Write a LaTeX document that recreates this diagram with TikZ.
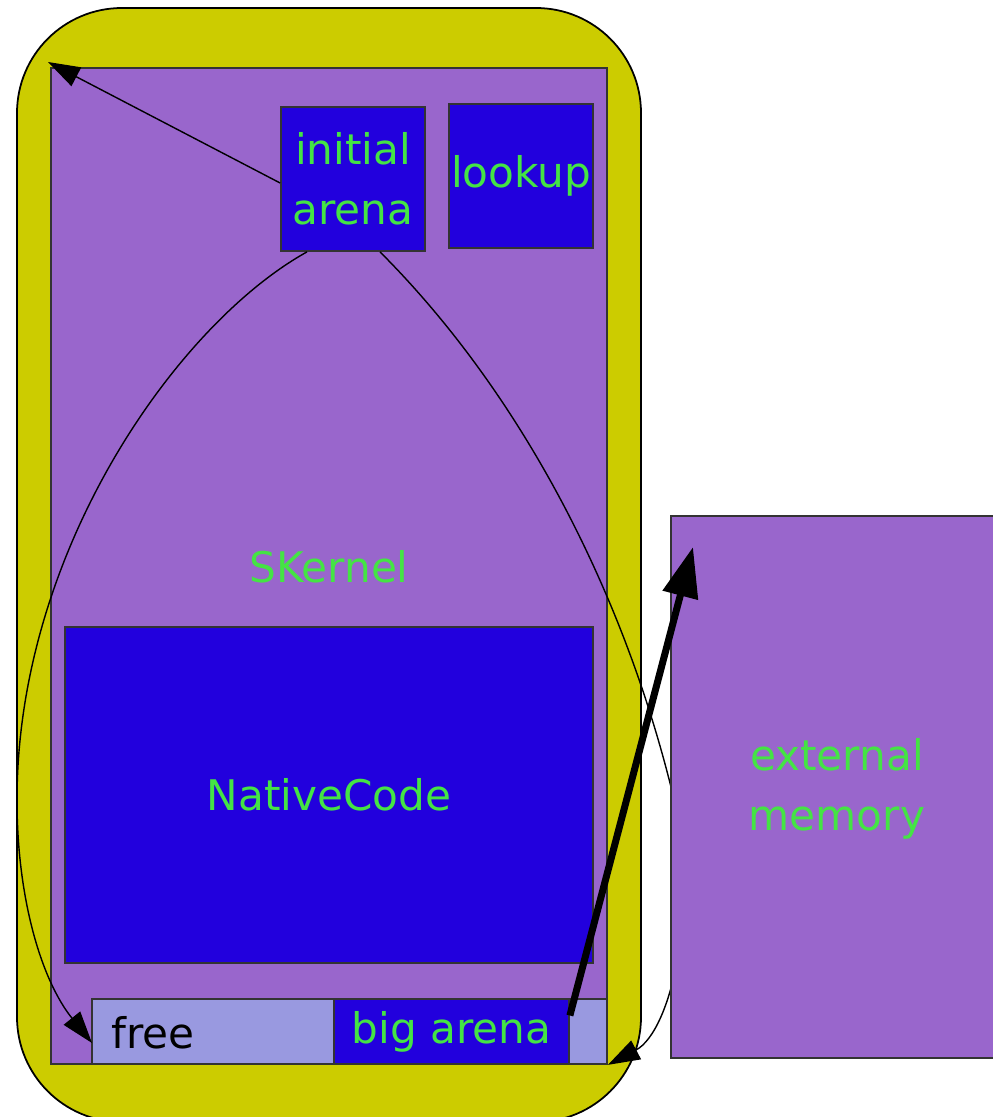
\documentclass[tikz,border=0pt]{standalone}
\usepackage{fontspec}
\setmainfont{DejaVu Sans}
\usetikzlibrary{arrows.meta}

\definecolor{shell}{HTML}{CCCC00}
\definecolor{kernel}{HTML}{9966CC}
\definecolor{block}{HTML}{2200DD}
\definecolor{freecol}{HTML}{9999E0}
\definecolor{txt}{HTML}{44E444}

\begin{document}
\begin{tikzpicture}[
    font=\fontsize{12}{17}\selectfont,
    region/.style={draw=black!80, line width=0.5pt, inner sep=0pt},
    blockbox/.style={region, fill=block, text=txt, align=center},
    ptr/.style={-{Triangle[length=0.32cm,width=0.21cm]}, line width=0.4pt}]
    \useasboundingbox (0,0) rectangle (9.93,-11.17);

    % Draw Outer Shell
    \draw[fill=shell, rounded corners=1.05cm, line width=0.5pt] (0.17,-0.08) rectangle (6.41,-11.22);

    % Draw Kernel Box
    \node[region, fill=kernel, minimum width=5.56cm, minimum height=9.96cm] (skernel) at (3.29,-5.66) {};
    \node[text=txt] (sklabel) at (3.29,-5.67) {SKernel};

    % Blocks inside the kernel
    \node[blockbox, minimum size=1.44cm] (initarena) at (3.53,-1.79) {initial\\arena};
    \node[blockbox, minimum size=1.44cm] (lookup) at (5.21,-1.76) {lookup};
    \node[blockbox, minimum width=5.28cm, minimum height=3.36cm] (native) at (3.29,-7.95) {NativeCode};

    % -- free space bar
    \node[region, fill=freecol, minimum width=5.15cm, minimum height=0.65cm] (freebar) at (3.495,-10.315) {};
    \node[anchor=west, inner sep=0pt] (freelbl) at (1.11,-10.33) {free};
    \node[blockbox, minimum width=2.35cm, minimum height=0.65cm] (bigarena) at (4.515,-10.315) {big arena};

    % Pointers
    \coordinate (cornertip) at (0.48,-0.62);
    \coordinate (freetip) at (0.92,-10.43);
    \draw[ptr] ([yshift=-0.04cm]initarena.west) -- (cornertip);
    % -- left loop
    \draw[ptr] ([xshift=-0.46cm]initarena.south) .. controls (1.78,-3.235) and (0.17,-5.5) .. (0.17,-8.0)
        .. controls (0.17,-9.0) and (0.42,-9.81) .. (freetip);
    % -- right loop (passes behind external memory)
    \draw[ptr] ([xshift=0.27cm]initarena.south) .. controls (5.2,-3.92) and (6.21,-5.87) .. (6.71,-7.87)
        .. controls (7.01,-9.07) and (6.71,-10.315) .. (freebar.south east);

    % External memory
    \node[region, fill=kernel, minimum width=3.24cm, minimum height=5.42cm] (extmem) at (8.33,-7.87) {};
    \node[text=txt, align=center] (extlbl) at (8.37,-7.89) {external\\memory};

    % -- big arena to external memory
    \coordinate (memtip) at (6.93,-5.47);
    \draw[-{Triangle[length=0.5cm,width=0.35cm]}, line width=0.07cm] ([yshift=0.16cm]bigarena.east) -- (memtip);
\end{tikzpicture}
\end{document}
